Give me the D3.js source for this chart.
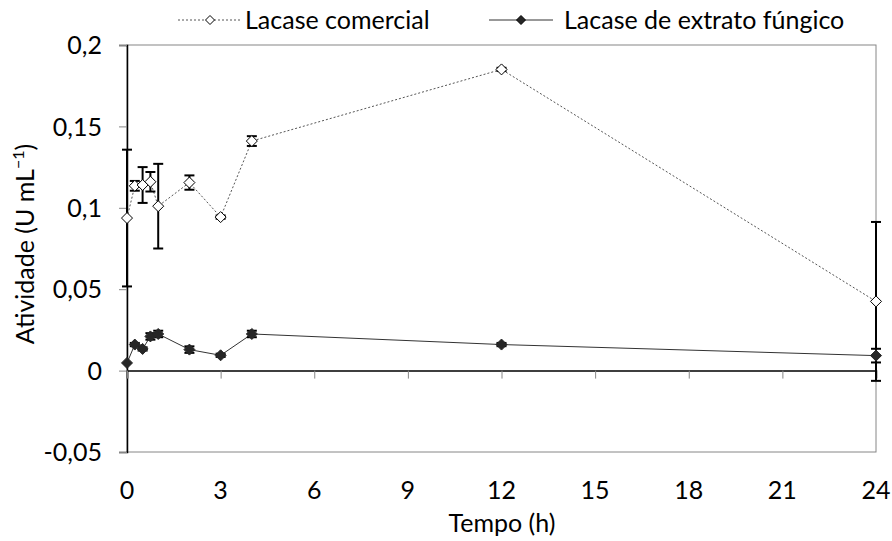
<!DOCTYPE html>
<html>
<head>
<meta charset="utf-8">
<script src="https://cdn.jsdelivr.net/npm/d3@7/dist/d3.min.js"></script>
<style>
  body { margin: 0; background: #fff; }
  text { font-family: Lato, "Open Sans", sans-serif; fill: #000; }
</style>
</head>
<body>
<svg id="chart" width="892" height="541"></svg>
<script>
// Sampling times (h)
const tempo = [0, 0.25, 0.5, 0.75, 1, 2, 3, 4, 12, 24];
// Commercial laccase activity (U/mL) and its error
const comercial = [0.0937, 0.1135, 0.114, 0.116, 0.101, 0.1155, 0.0943, 0.141, 0.185, 0.0425];
const comercialErr = [0.042, 0.003, 0.011, 0.006, 0.026, 0.0044, 0.001, 0.003, 0.001, 0.0488];
// Fungal extract laccase activity (U/mL) and its error
const fungico = [0.0047, 0.016, 0.0133, 0.021, 0.0225, 0.0129, 0.0094, 0.0225, 0.016, 0.0092];
const fungicoErr = [0, 0.001, 0.001, 0.002, 0.002, 0.002, 0.001, 0.002, 0.001, 0.0042];
// Axis ticks
const xTicks = [0, 3, 6, 9, 12, 15, 18, 21, 24];
const yTicks = [-0.05, 0, 0.05, 0.1, 0.15, 0.2];

const FS = "25px";
const svg = d3.select("#chart");
const plotL = 127, plotR = 876, plotT = 45, plotB = 452;

const x = d3.scaleLinear().domain([0, 24]).range([plotL, plotR]);
const y = d3.scaleLinear().domain([-0.05, 0.2]).range([plotB, plotT]);
const fmt = v => (v === 0 ? "0" : String(+v.toFixed(2)).replace(".", ","));

// Square diamond marker
const diamondPath = r => `M0,${-r}L${r},0L0,${r}L${-r},0Z`;

// Plot frame
svg.append("rect")
  .attr("x", plotL).attr("y", plotT)
  .attr("width", plotR - plotL).attr("height", plotB - plotT)
  .attr("fill", "none").attr("stroke", "#868686").attr("stroke-width", 1);

// Y axis (left, gray ticks)
const yAxis = svg.append("g").attr("transform", `translate(${plotL},0)`)
  .call(d3.axisLeft(y).tickValues(yTicks).tickFormat(fmt).tickSize(8).tickPadding(8));
yAxis.select(".domain").attr("stroke", "#000").attr("stroke-width", 1.5);
yAxis.selectAll(".tick line").attr("stroke", "#868686");
yAxis.selectAll(".tick text").style("font-size", FS).attr("dy", "0.35em").attr("x", -25);

// X axis drawn at y = 0, labels placed below the frame
const xAxis = svg.append("g").attr("transform", `translate(0,${y(0)})`)
  .call(d3.axisBottom(x).tickValues(xTicks).tickSize(8).tickFormat(""));
xAxis.select(".domain").attr("stroke", "#000").attr("stroke-width", 1.5);
xAxis.selectAll(".tick line").attr("stroke", "#868686");

svg.append("g").selectAll("text").data(xTicks).join("text")
  .attr("x", d => x(d)).attr("y", 499)
  .attr("text-anchor", "middle").style("font-size", FS)
  .text(d => d);

// Axis titles
svg.append("text").attr("x", 502).attr("y", 532)
  .attr("text-anchor", "middle").style("font-size", FS).text("Tempo (h)");
svg.append("text")
  .attr("transform", "translate(34,244) rotate(-90)")
  .attr("text-anchor", "middle").style("font-size", FS)
  .html('Atividade (U mL<tspan dy="-10" style="font-size:16px">−1</tspan><tspan dy="10">)</tspan>');

const comData = tempo.map((t, i) => ({ t, v: comercial[i], e: comercialErr[i] }));
const funData = tempo.map((t, i) => ({ t, v: fungico[i], e: fungicoErr[i] }));

const line = d3.line().x(d => x(d.t)).y(d => y(d.v));

// Series lines
svg.append("path").datum(comData).attr("d", line)
  .attr("fill", "none").attr("stroke", "#555").attr("stroke-width", 1)
  .attr("stroke-dasharray", "2,2");
svg.append("path").datum(funData).attr("d", line)
  .attr("fill", "none").attr("stroke", "#333").attr("stroke-width", 1);

// Error bars
function errorBars(data) {
  const g = svg.append("g").attr("stroke", "#000").attr("stroke-width", 2);
  data.filter(d => d.e > 0).forEach(d => {
    const cx = x(d.t), y1 = y(d.v + d.e), y2 = y(d.v - d.e);
    g.append("line").attr("x1", cx).attr("x2", cx).attr("y1", y1).attr("y2", y2);
    g.append("line").attr("x1", cx - 5).attr("x2", cx + 5).attr("y1", y1).attr("y2", y1);
    g.append("line").attr("x1", cx - 5).attr("x2", cx + 5).attr("y1", y2).attr("y2", y2);
  });
}
errorBars(funData);
errorBars(comData);

// Markers
svg.append("g").selectAll("path").data(funData).join("path")
  .attr("d", diamondPath(5.5)).attr("transform", d => `translate(${x(d.t)},${y(d.v)})`)
  .attr("fill", "#262626").attr("stroke", "#262626").attr("stroke-width", 1);
svg.append("g").selectAll("path").data(comData).join("path")
  .attr("d", diamondPath(5.5)).attr("transform", d => `translate(${x(d.t)},${y(d.v)})`)
  .attr("fill", "#fff").attr("stroke", "#000").attr("stroke-width", 1);

// Legend
const legend = [
  { name: "Lacase comercial", x0: 178, tx: 245, dash: "2,2", fill: "#fff", stroke: "#555" },
  { name: "Lacase de extrato fúngico", x0: 489, tx: 564, dash: null, fill: "#262626", stroke: "#333" }
];
legend.forEach(l => {
  const g = svg.append("g");
  g.append("line").attr("x1", l.x0).attr("x2", l.x0 + 64).attr("y1", 20).attr("y2", 20)
    .attr("stroke", l.stroke).attr("stroke-width", 1).attr("stroke-dasharray", l.dash);
  g.append("path").attr("d", diamondPath(4.5))
    .attr("transform", `translate(${l.x0 + 32},20)`)
    .attr("fill", l.fill).attr("stroke", "#000").attr("stroke-width", 1);
  g.append("text").attr("x", l.tx).attr("y", 20).attr("dy", "0.35em")
    .style("font-size", FS).text(l.name);
});
</script>
</body>
</html>
